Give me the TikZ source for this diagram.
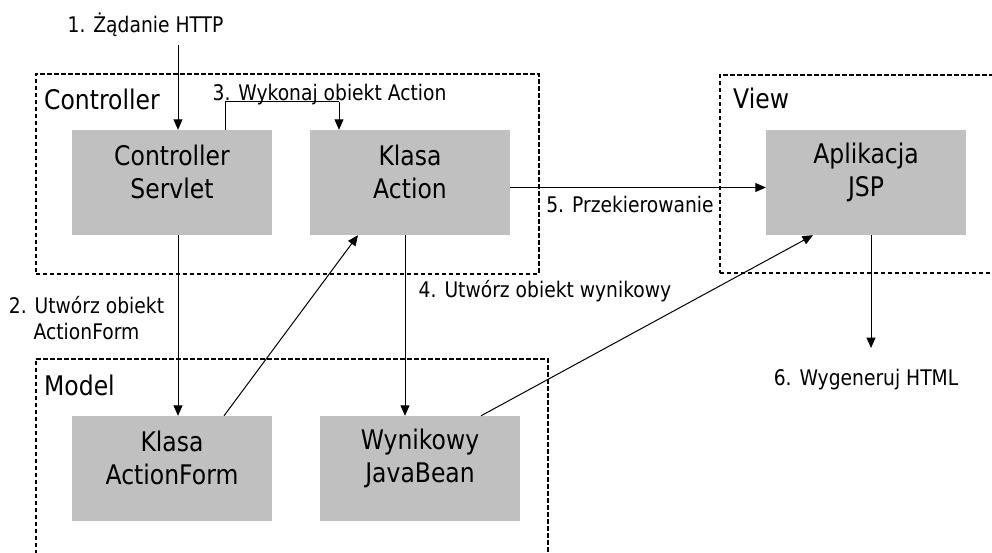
\documentclass[tikz,border=0pt]{standalone}
\usepackage{fontspec}
\setmainfont{DejaVu Sans}[FakeStretch=0.87]
\usetikzlibrary{arrows.meta}
\definecolor{boxgray}{HTML}{C0C0C0}
\begin{document}
\begin{tikzpicture}[x=1pt,y=-1pt,
  group/.style={draw=black, line width=1.6pt, dash pattern=on 4.5pt off 2.5pt, rectangle, inner sep=0pt, anchor=north west},
  cls/.style={fill=boxgray, draw=none, rectangle, minimum width=200pt, minimum height=105pt, inner sep=0pt},
  clstext/.style={align=center, inner sep=0pt, font=\fontsize{27}{33}\selectfont},
  grouptext/.style={anchor=base west, inner sep=0pt, font=\fontsize{27}{33}\selectfont},
  lbl/.style={inner sep=0pt, font=\fontsize{21.5}{26}\selectfont},
  arr/.style={draw=black, line width=1pt, -{Triangle[length=10.5pt,width=9pt]}},
  ln/.style={draw=black, line width=1pt}
]
\useasboundingbox (0,0) rectangle (992,553);
% groups
\node[group, minimum width=503pt, minimum height=200pt] (gctrl) at (35,73) {};
\node[group, minimum width=290pt, minimum height=198pt] (gview) at (719,74) {};
\node[group, minimum width=512pt, minimum height=220pt] (gmodel) at (35,358) {};
\node[grouptext] (tctrl) at (44,110) {Controller};
\node[grouptext] (tview) at (733,109) {View};
\node[grouptext] (tmodel) at (44,395) {Model};
% class boxes
\node[cls] (cs) at (172,182.5) {};
\node[cls] (ka) at (410,182.5) {};
\node[cls] (jsp) at (866,182.5) {};
\node[cls] (af) at (172,468.5) {};
\node[cls] (wb) at (420,468.5) {};
\node[clstext] (cst) at (172,172) {Controller\\Servlet};
\node[clstext] (kat) at (410,172) {Klasa\\Action};
\node[clstext] (jspt) at (866,172) {Aplikacja\\JSP};
\node[clstext] (aft) at (172,458) {Klasa\\ActionForm};
\node[clstext] (wbt) at (420,458) {Wynikowy\\JavaBean};
% labels
\node[lbl, anchor=base] (l1) at (145.5,32.6) {1. Żądanie HTTP};
\node[lbl, align=center] (l2) at (86.5,318) {2. Utwórz obiekt\\ActionForm};
\node[lbl, anchor=base] (l3) at (329.5,101) {3. Wykonaj obiekt Action};
\node[lbl, anchor=base] (l4) at (545,297) {4. Utwórz obiekt wynikowy};
\node[lbl, anchor=base] (l5) at (630,213) {5. Przekierowanie};
\node[lbl, anchor=base] (l6) at (866,385) {6. Wygeneruj HTML};
% connector coordinates
\coordinate (in1) at (178,45);
\coordinate (k3a) at (225,102);
\coordinate (k3b) at (339,102);
\coordinate (x4) at (405,300);
\coordinate (out6) at (871,348);
% connectors
\draw[arr] (in1) -- (in1 |- cs.north);
\draw[arr] (cs.south -| in1) -- (af.north -| in1);
\draw[ln] (k3a |- cs.north) -- (k3a) -- (k3b);
\draw[arr] (k3b) -- (k3b |- ka.north);
\draw[arr] (ka.south -| x4) -- (wb.north -| x4);
\draw[arr] ([yshift=-5pt]ka.east) -- ([yshift=-5pt]jsp.west);
\draw[arr] ([xshift=52pt]af.north) -- ([xshift=-52pt]ka.south);
\draw[arr] ([xshift=61pt]wb.north) -- ([xshift=-53pt]jsp.south);
\draw[arr] (jsp.south -| out6) -- (out6);
\end{tikzpicture}
\end{document}
